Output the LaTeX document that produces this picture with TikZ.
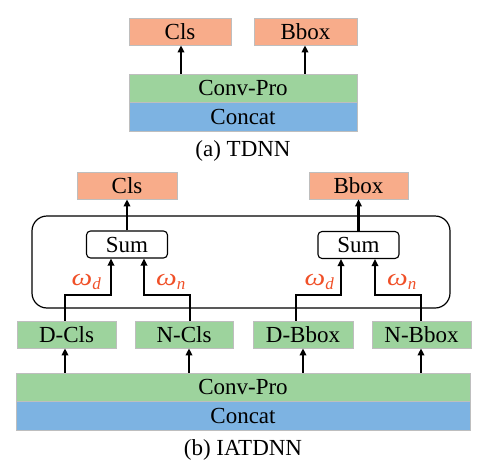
\documentclass[tikz,border=0pt]{standalone}
\usepackage{fontspec}
\setmainfont{Liberation Serif}
\usetikzlibrary{arrows.meta}
\definecolor{orgc}{RGB}{248,172,138}
\definecolor{grnc}{RGB}{157,211,157}
\definecolor{bluc}{RGB}{125,179,226}
\definecolor{omc}{RGB}{240,80,40}
\definecolor{edgec}{RGB}{190,190,190}
\begin{document}
\begin{tikzpicture}[x=1pt,y=-1pt,
  font=\rmfamily\fontsize{23}{25}\selectfont,
  boxst/.style={draw=edgec,line width=0.8pt,inner sep=0pt,minimum height=27pt},
  orgbox/.style={boxst,fill=orgc},
  grnbox/.style={boxst,fill=grnc},
  blubox/.style={boxst,fill=bluc},
  sumbox/.style={draw=black,line width=1.1pt,rounded corners=4pt,inner sep=0pt,minimum width=81pt,minimum height=27pt,fill=white},
  arr/.style={line width=2.2pt,-{Triangle[length=7pt,width=6.5pt]}},
  wlab/.style={text=omc,inner sep=0pt,font=\rmfamily\fontsize{24}{25}\selectfont}
]
\newcommand{\wsym}[1]{\scalebox{1.22}[1]{\textit{ω}}\raisebox{-0.45ex}{\fontsize{17}{18}\selectfont\textit{#1}}}
\useasboundingbox (0,0) rectangle (501,466);
% (a)
\node[orgbox,minimum width=102pt] (clsA) at (180,31.5) {Cls};
\node[orgbox,minimum width=103pt] (bboxA) at (305.5,31.5) {Bbox};
\node[grnbox,minimum width=228pt,minimum height=28pt] (convA) at (243,88) {Conv-Pro};
\node[blubox,minimum width=228pt,minimum height=29pt] (concatA) at (243,116.5) {Concat};
\node (capA) at (243,151) {(a) TDNN};
\draw[arr] ([xshift=1pt]clsA.south |- convA.north) -- ([xshift=1pt]clsA.south);
\draw[arr] ([xshift=-0.5pt]bboxA.south |- convA.north) -- ([xshift=-0.5pt]bboxA.south);
% (b)
\node[orgbox,minimum width=100pt] (clsB) at (127,185.5) {Cls};
\node[orgbox,minimum width=99pt] (bboxB) at (358.5,185.5) {Bbox};
\draw[line width=1.2pt,rounded corners=15pt] (32,216) rectangle (450,308);
\node[sumbox] (sumL) at (127,244.5) {Sum};
\node[sumbox] (sumR) at (358.5,245) {Sum};
\node[grnbox,minimum width=99pt] (dcls) at (66.5,334.5) {D-Cls};
\node[grnbox,minimum width=98pt] (ncls) at (184,334.5) {N-Cls};
\node[grnbox,minimum width=100pt] (dbbox) at (303,334.5) {D-Bbox};
\node[grnbox,minimum width=99pt] (nbbox) at (421.5,334.5) {N-Bbox};
\node[grnbox,minimum width=454pt,minimum height=28pt] (convB) at (243,387) {Conv-Pro};
\node[blubox,minimum width=454pt,minimum height=29pt] (concatB) at (243,415.5) {Concat};
\node (capB) at (243,450) {(b) IATDNN};
% arrows from Conv-Pro
\draw[arr] ([xshift=-1.5pt]dcls.south |- convB.north) -- ([xshift=-1.5pt]dcls.south);
\draw[arr] ([xshift=5pt]ncls.south |- convB.north) -- ([xshift=5pt]ncls.south);
\draw[arr] (dbbox.south |- convB.north) -- (dbbox.south);
\draw[arr] ([xshift=-0.5pt]nbbox.south |- convB.north) -- ([xshift=-0.5pt]nbbox.south);
% branches to Sum
\draw[arr] ([xshift=-1.5pt]dcls.north) |- (111,295) -- ([xshift=-16pt]sumL.south);
\draw[arr] ([xshift=6pt]ncls.north) |- (144,295) -- ([xshift=17pt]sumL.south);
\draw[arr] ([xshift=-7pt]dbbox.north) |- (341,295) -- ([xshift=-17.5pt]sumR.south);
\draw[arr] ([xshift=-0.5pt]nbbox.north) |- (375,295) -- ([xshift=16.5pt]sumR.south);
% sum to outputs
\draw[arr] (sumL.north) -- (clsB.south);
\draw[arr] (sumR.north) -- (bboxB.south);
% weights
\node[wlab,anchor=base east] (wdL) at (101,285) {\wsym{d}};
\node[wlab,anchor=base west] (wnL) at (156,285) {\wsym{n}};
\node[wlab,anchor=base east] (wdR) at (334,285) {\wsym{d}};
\node[wlab,anchor=base west] (wnR) at (387,285) {\wsym{n}};
\end{tikzpicture}
\end{document}
